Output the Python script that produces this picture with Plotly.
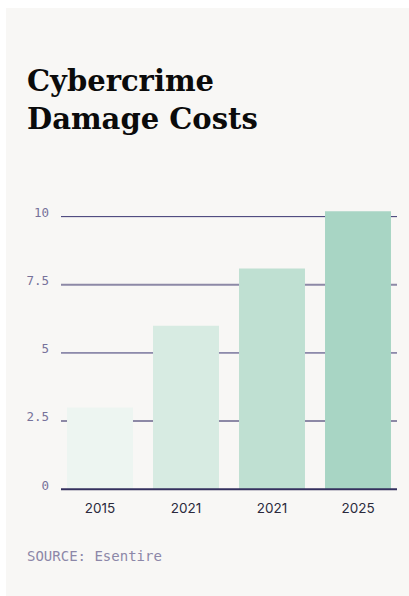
import plotly.graph_objects as go

# Chart data
years = ["2015", "2021", "2021", "2025"]
damage_trillions = [3.0, 6.0, 8.1, 10.2]
bar_colors = ["#edf5f1", "#d7ebe2", "#bfe0d2", "#a8d5c4"]
y_ticks = [0, 2.5, 5, 7.5, 10]
y_tick_text = ["0", "2.5", "5", "7.5", "10"]

title_text = "Cybercrime<br>Damage Costs"
source_text = "SOURCE: Esentire"

# Canvas and plot geometry (pixels)
W, H = 409, 596
M_L, M_R, M_T, M_B = 61, 12, 203, 104
PLOT_W = W - M_L - M_R
PLOT_H = H - M_T - M_B

CARD = "#f8f7f5"
NAVY = "#3a3571"
NAVY_SOFT = "#8d89a6"
TICK_COLOR = "#77729a"


def px_x(px):
    return (px - M_L) / PLOT_W


def px_y(py):
    return (H - M_B - py) / PLOT_H


fig = go.Figure()
fig.add_trace(
    go.Bar(
        x=list(range(len(years))),
        y=damage_trillions,
        marker=dict(color=bar_colors, line=dict(width=0)),
        hoverinfo="skip",
    )
)

shapes = [
    # card background
    dict(type="rect", xref="paper", yref="paper",
         x0=px_x(6), x1=px_x(W + 2), y0=px_y(H + 2), y1=px_y(8),
         fillcolor=CARD, line=dict(width=0), layer="below"),
]
# horizontal gridlines at the labelled ticks (behind the bars)
for i, v in enumerate(y_ticks):
    if v == 0:
        continue
    soft = (i % 2 == 1)
    shapes.append(dict(
        type="line", xref="paper", yref="y", x0=0, x1=1, y0=v, y1=v,
        line=dict(color=NAVY_SOFT if soft else NAVY, width=2 if soft else 1),
        layer="below"))
# baseline drawn over the bars
shapes.append(dict(type="line", xref="paper", yref="y", x0=0, x1=1, y0=0, y1=0,
                   line=dict(color="#34305e", width=2.2), layer="above"))

annotations = [
    dict(text=title_text, xref="paper", yref="paper", x=px_x(25), y=px_y(62),
         xanchor="left", yanchor="top", align="left", showarrow=False,
         font=dict(family="DejaVu Serif", size=29, color="#0b0b0b", weight=900)),
    dict(text=source_text, xref="paper", yref="paper", x=px_x(25), y=px_y(556),
         xanchor="left", yanchor="middle", showarrow=False,
         font=dict(family="DejaVu Sans Mono", size=14, color="#8c87a8")),
]

fig.update_layout(
    width=W, height=H,
    margin=dict(l=M_L, r=M_R, t=M_T, b=M_B, pad=0),
    paper_bgcolor="#ffffff",
    plot_bgcolor=CARD,
    showlegend=False,
    bargap=0.233,
    shapes=shapes,
    annotations=annotations,
    xaxis=dict(
        range=[-0.4535, 3.4535],
        tickvals=list(range(len(years))), ticktext=years,
        showgrid=False, zeroline=False, showline=False, ticks="",
        ticklabelstandoff=6,
        tickfont=dict(family="Inter", size=13.5, color="#2b2a3c"),
        fixedrange=True,
    ),
    yaxis=dict(
        range=[-0.1, 10.5],
        tickvals=y_ticks, ticktext=y_tick_text,
        showgrid=False, zeroline=False, showline=False, ticks="",
        ticklabelstandoff=11, ticklabelshift=-4,
        tickfont=dict(family="DejaVu Sans Mono", size=12.5, color=TICK_COLOR),
        fixedrange=True,
    ),
)

fig.write_html("out.html", config={"displayModeBar": False})
